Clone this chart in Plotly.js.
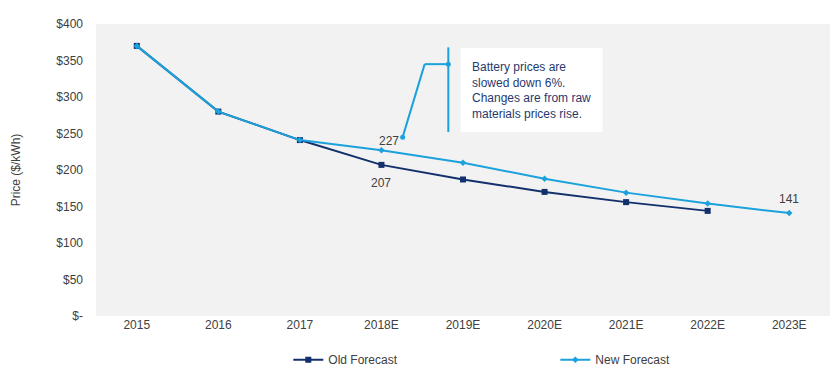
<!DOCTYPE html>
<html><head><meta charset="utf-8">
<script src="https://cdn.plot.ly/plotly-3.0.1.min.js"></script>
<style>body{margin:0;background:#fff}#chart{width:835px;height:380px}</style>
</head><body><div id="chart"></div>
<script>
const categories = ["2015","2016","2017","2018E","2019E","2020E","2021E","2022E","2023E"];
const oldForecast = [370, 280, 241, 207, 187, 170, 156, 144, null];
const newForecast = [370, 280, 241, 227, 210, 188, 169, 154, 141];
const yTickVals = [0,50,100,150,200,250,300,350,400];
const yTickText = ["$-","$50","$100","$150","$200","$250","$300","$350","$400"];
const noteText = "Battery prices are<br>slowed down 6%.<br>Changes are from raw<br>materials prices rise.";

const navy = "#12306b";
const blue = "#1ba1dc";
const font = "Liberation Sans, Arial, sans-serif";

const traces = [
  {x: categories, y: oldForecast, name: "Old Forecast", type: "scatter", mode: "lines+markers",
   line: {color: navy, width: 2}, marker: {symbol: "square", size: 6, color: navy}},
  {x: categories, y: newForecast, name: "New Forecast", type: "scatter", mode: "lines+markers",
   line: {color: blue, width: 2}, marker: {symbol: "diamond", size: 5, color: blue}}
];

const layout = {
  width: 835, height: 380,
  margin: {l: 96, r: 5, t: 24, b: 64, autoexpand: false},
  paper_bgcolor: "#ffffff", plot_bgcolor: "#f2f2f2",
  font: {family: font, size: 12, color: "#404040"},
  showlegend: true,
  legend: {orientation: "h", x: 0.262, y: -0.10, xanchor: "left", yanchor: "top",
    entrywidth: 222, entrywidthmode: "pixels", font: {size: 12, color: "#404040"}, itemwidth: 30},
  xaxis: {type: "category", showgrid: false, zeroline: false, showline: false, ticks: "",
    range: [-0.5, 8.5], tickfont: {size: 12, color: "#404040"}},
  yaxis: {range: [0, 400], tickvals: yTickVals, ticktext: yTickText, showgrid: false,
    zeroline: false, showline: false, ticks: "", ticklabelstandoff: 12,
    tickfont: {size: 12, color: "#404040"},
    title: {text: "Price ($/kWh)", font: {size: 12, color: "#404040"}, standoff: 33}},
  shapes: [
    {type: "line", xref: "x", yref: "y", x0: 3.26, y0: 245, x1: 3.53, y1: 345, line: {color: blue, width: 2}},
    {type: "line", xref: "x", yref: "y", x0: 3.53, y0: 345, x1: 3.82, y1: 345, line: {color: blue, width: 2}},
    {type: "line", xref: "x", yref: "y", x0: 3.82, y0: 368, x1: 3.82, y1: 252, line: {color: blue, width: 2}},
    {type: "circle", xref: "x", yref: "y", xsizemode: "pixel", ysizemode: "pixel", xanchor: 3.26, yanchor: 245,
     x0: -2.5, x1: 2.5, y0: -2.5, y1: 2.5, fillcolor: blue, line: {color: blue, width: 0}},
    {type: "circle", xref: "x", yref: "y", xsizemode: "pixel", ysizemode: "pixel", xanchor: 3.82, yanchor: 345,
     x0: -2.5, x1: 2.5, y0: -2.5, y1: 2.5, fillcolor: blue, line: {color: blue, width: 0}},
    {type: "rect", xref: "x", yref: "y", x0: 3.97, x1: 5.71, y0: 252, y1: 367, fillcolor: "#ffffff", line: {width: 0}}
  ],
  annotations: [
    {xref: "x", yref: "y", x: 4.08, y: 309.5, text: noteText, showarrow: false, xanchor: "left", yanchor: "middle",
     align: "left", font: {size: 12, color: "#1f3a6e"}},
    {xref: "x", yref: "y", x: categories[3], y: newForecast[3], text: String(newForecast[3]), showarrow: false,
     xanchor: "right", yanchor: "bottom", xshift: 20, yshift: 0, font: {size: 12, color: "#404040"}},
    {xref: "x", yref: "y", x: categories[3], y: oldForecast[3], text: String(oldForecast[3]), showarrow: false,
     xanchor: "center", yanchor: "top", yshift: -9, font: {size: 12, color: "#404040"}},
    {xref: "x", yref: "y", x: categories[8], y: newForecast[8], text: String(newForecast[8]), showarrow: false,
     xanchor: "center", yanchor: "bottom", yshift: 5, font: {size: 12, color: "#404040"}}
  ]
};

Plotly.newPlot("chart", traces, layout, {displayModeBar: false, staticPlot: true});
</script>
</body></html>
